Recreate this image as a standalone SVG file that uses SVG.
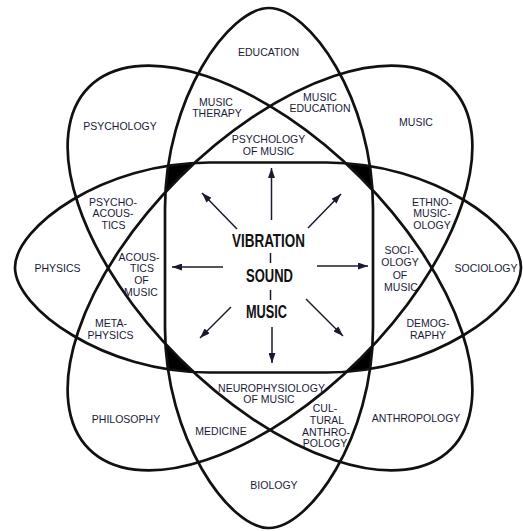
<svg xmlns="http://www.w3.org/2000/svg" width="523" height="531" viewBox="0 0 523 531">
<style>
.e{fill:none;stroke:#111;stroke-width:2.7}
.l{font-family:"Liberation Sans",Arial,sans-serif;font-size:10.5px;fill:#1a1a38;text-anchor:middle}
.c{font-family:"Liberation Sans",Arial,sans-serif;font-size:17.5px;font-weight:bold;fill:#111;text-anchor:middle}
.a{stroke:#1a1a2e;stroke-width:1.5;fill:none}
.d{stroke:#1a1a2e;stroke-width:1.5}
</style>
<defs>
<marker id="ah" markerUnits="userSpaceOnUse" markerWidth="10" markerHeight="7" refX="10" refY="3.5" orient="auto">
<path d="M0,0 L10,3.5 L0,7 z" fill="#1a1a2e"/>
</marker>
<path id="shV" d="M269,8 C309,8 373,98 373,208 L373,328 C373,438 309,528 269,528 C229,528 165,438 165,328 L165,208 C165,98 229,8 269,8 Z"/>
<path id="shH" d="M15,267.5 C15,227.5 102.6,162.5 209.6,162.5 L326.4,162.5 C433.4,162.5 521,227.5 521,267.5 C521,307.5 433.4,372.5 326.4,372.5 L209.6,372.5 C102.6,372.5 15,307.5 15,267.5 Z"/>
<clipPath id="cH"><use href="#shH"/></clipPath>
<clipPath id="cV"><use href="#shV"/></clipPath>
<clipPath id="cD2"><ellipse cx="270" cy="268" rx="256" ry="128" transform="rotate(-45 270 268)"/></clipPath>
<mask id="mD" maskUnits="userSpaceOnUse" x="0" y="0" width="523" height="531">
<rect width="523" height="531" fill="#fff"/>
<g clip-path="url(#cD2)">
<ellipse cx="270" cy="268" rx="256" ry="128" transform="rotate(45 270 268)" fill="#000"/>
</g>
</mask>
</defs>
<rect width="523" height="531" fill="#fff"/>
<g id="corners" clip-path="url(#cH)">
<g clip-path="url(#cV)">
<rect x="150" y="150" width="240" height="240" fill="#000" mask="url(#mD)"/>
</g>
</g>
<g id="ellipses">
<use class="e" href="#shV"/>
<use class="e" href="#shH"/>
<ellipse class="e" cx="270" cy="268" rx="256" ry="128" transform="rotate(45 270 268)"/>
<ellipse class="e" cx="270" cy="268" rx="256" ry="128" transform="rotate(-45 270 268)"/>
</g>
<g id="connectors">
<line class="a" x1="271.5" y1="220" x2="271.5" y2="168" marker-end="url(#ah)"/>
<line class="a" x1="272" y1="327" x2="272" y2="363" marker-end="url(#ah)"/>
<line class="a" x1="223" y1="267" x2="172" y2="267" marker-end="url(#ah)"/>
<line class="a" x1="317" y1="266" x2="368" y2="266" marker-end="url(#ah)"/>
<line class="a" x1="237" y1="229" x2="202" y2="193" marker-end="url(#ah)"/>
<line class="a" x1="308" y1="228" x2="341" y2="194" marker-end="url(#ah)"/>
<line class="a" x1="231" y1="307" x2="200" y2="338" marker-end="url(#ah)"/>
<line class="a" x1="306" y1="299" x2="343" y2="336" marker-end="url(#ah)"/>
<line class="d" x1="270.5" y1="253" x2="270.5" y2="263"/>
<line class="d" x1="270.5" y1="290" x2="270.5" y2="300"/>
</g>
<g id="center">
<text class="c" x="268.5" y="246.5" textLength="73" lengthAdjust="spacingAndGlyphs">VIBRATION</text>
<text class="c" x="269.5" y="281.5" textLength="47" lengthAdjust="spacingAndGlyphs">SOUND</text>
<text class="c" x="266.5" y="317.5" textLength="41" lengthAdjust="spacingAndGlyphs">MUSIC</text>
</g>
<g id="education"><text class="l" x="268.5" y="55.8">EDUCATION</text></g>
<g id="psychology"><text class="l" x="120" y="129.8">PSYCHOLOGY</text></g>
<g id="music-therapy"><text class="l" x="216" y="105.8">MUSIC</text><text class="l" x="217" y="117">THERAPY</text></g>
<g id="music-education"><text class="l" x="320" y="100.8">MUSIC</text><text class="l" x="320" y="111.8">EDUCATION</text></g>
<g id="psychology-of-music"><text class="l" x="268.5" y="142.8">PSYCHOLOGY</text><text class="l" x="268.5" y="154.8">OF MUSIC</text></g>
<g id="music"><text class="l" x="416" y="125.8">MUSIC</text></g>
<g id="ethnomusicology"><text class="l" x="432" y="205.8">ETHNO-</text><text class="l" x="432" y="216.8">MUSIC-</text><text class="l" x="432" y="228.8">OLOGY</text></g>
<g id="sociology"><text class="l" x="486" y="271.8">SOCIOLOGY</text></g>
<g id="sociology-of-music"><text class="l" x="399" y="253.8">SOCI-</text><text class="l" x="400" y="265.8">OLOGY</text><text class="l" x="400" y="278.8">OF</text><text class="l" x="401" y="290.8">MUSIC</text></g>
<g id="demography"><text class="l" x="428" y="326.8">DEMOG-</text><text class="l" x="428" y="338.8">RAPHY</text></g>
<g id="anthropology"><text class="l" x="416" y="421.8">ANTHROPOLOGY</text></g>
<g id="cultural-anthropology"><text class="l" x="325" y="411.8">CUL-</text><text class="l" x="327" y="423.8">TURAL</text><text class="l" x="326" y="435.8">ANTHRO-</text><text class="l" x="325" y="446.8">POLOGY</text></g>
<g id="neurophysiology-of-music"><text class="l" x="271.5" y="391.8">NEUROPHYSIOLOGY</text><text class="l" x="269" y="402.8">OF MUSIC</text></g>
<g id="medicine"><text class="l" x="221" y="434.8">MEDICINE</text></g>
<g id="biology"><text class="l" x="274" y="488.8">BIOLOGY</text></g>
<g id="philosophy"><text class="l" x="126" y="422.8">PHILOSOPHY</text></g>
<g id="metaphysics"><text class="l" x="111" y="326.8">META-</text><text class="l" x="110.5" y="338.8">PHYSICS</text></g>
<g id="acoustics-of-music"><text class="l" x="139" y="260.8">ACOUS-</text><text class="l" x="142" y="271.8">TICS</text><text class="l" x="141.5" y="283.8">OF</text><text class="l" x="141" y="295.8">MUSIC</text></g>
<g id="psychoacoustics"><text class="l" x="113" y="205.8">PSYCHO-</text><text class="l" x="113" y="216.8">ACOUS-</text><text class="l" x="113.5" y="228.8">TICS</text></g>
<g id="physics"><text class="l" x="57.5" y="271.8">PHYSICS</text></g>
</svg>
